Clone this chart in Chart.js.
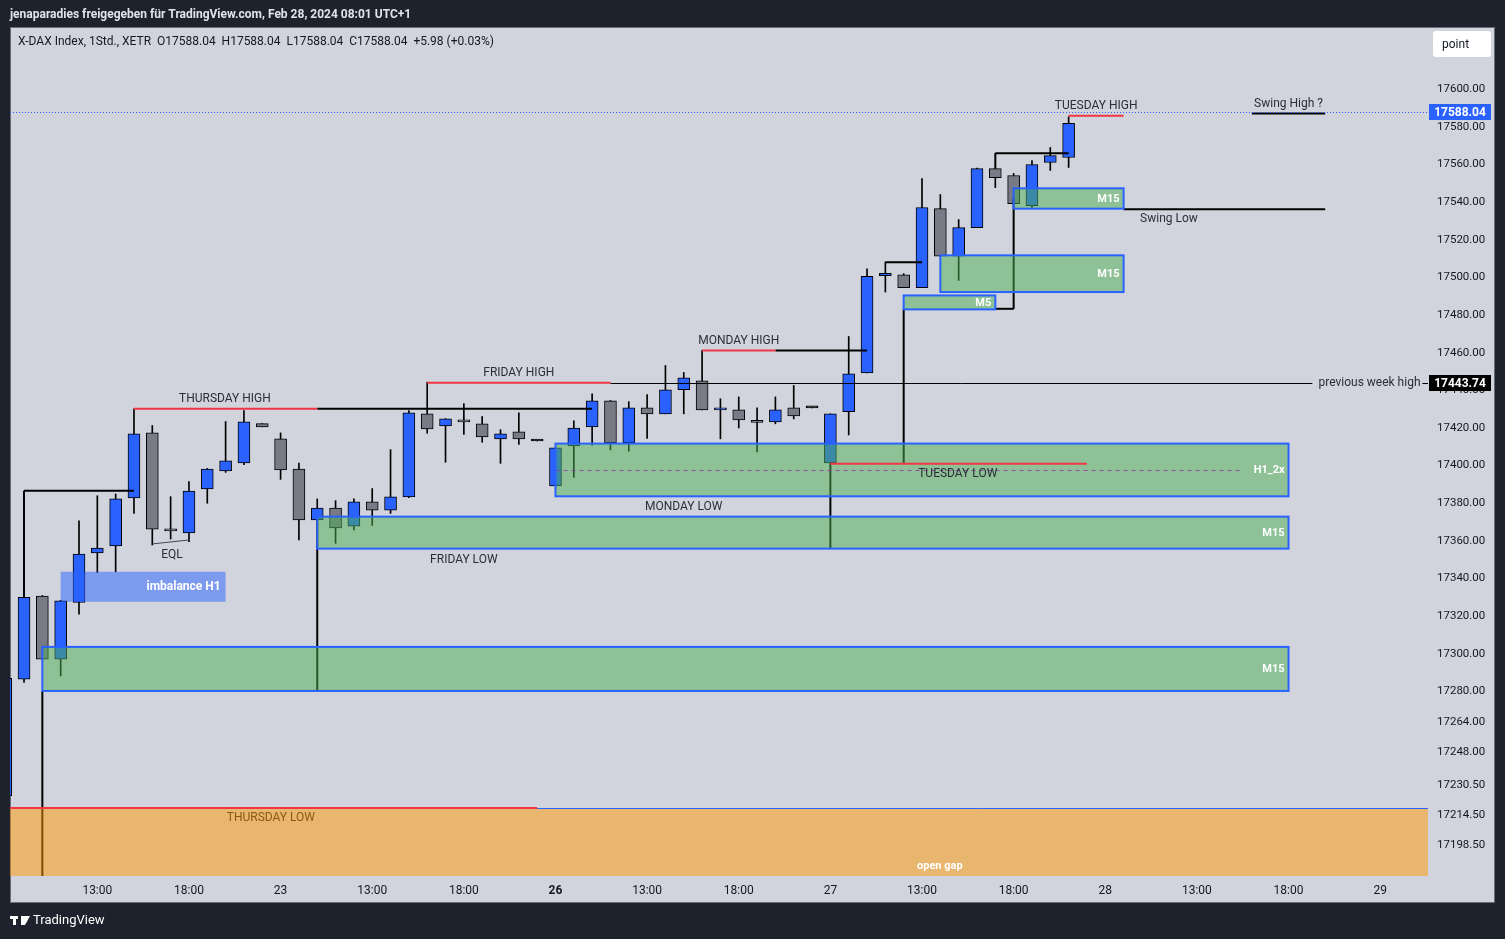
<!DOCTYPE html>
<html>
<head>
<meta charset="utf-8">
<script src="https://cdn.jsdelivr.net/npm/chart.js@4.4.1/dist/chart.umd.min.js"></script>
<style>
  html, body { margin: 0; padding: 0; background: #1e222d; overflow: hidden; }
</style>
</head>
<body>
<canvas id="daxChart" width="1505" height="939"></canvas>
<script>
// bar 0 = Thu 22 Feb 08:00, 15 one-hour bars per session (08:00 - 22:00)
const opens = [
  17224.5, 17286.5, 17330.7, 17297.2, 17327.3, 17353.6, 17357.3, 17382.8, 17417.4, 17366.3,
  17364.2, 17387.6, 17397.2, 17401.4, 17422.3, 17414.2, 17398.2, 17371.1, 17377.5, 17367.9,
  17380.7, 17376.4, 17383.4, 17427.5, 17421.1, 17424.3, 17422.2, 17414.2, 17417.9, 17413.1,
  17389.2, 17410.5, 17420.6, 17434.4, 17412.0, 17430.7, 17427.5, 17440.3, 17445.0, 17429.6,
  17429.6, 17423.6, 17423.2, 17430.7, 17430.7, 17401.4, 17428.6, 17449.3, 17500.9, 17501.4,
  17494.5, 17536.5, 17511.2, 17526.4, 17557.8, 17554.1, 17538.1, 17561.0, 17563.7,
];
const highs = [
  17290.0, 17330.5, 17331.0, 17328.5, 17370.7, 17384.0, 17384.9, 17430.2, 17421.3, 17383.5,
  17391.5, 17398.5, 17423.4, 17429.3, 17422.3, 17417.4, 17401.4, 17382.3, 17381.4, 17382.3,
  17387.8, 17408.5, 17429.3, 17444.3, 17425.0, 17433.0, 17426.1, 17419.1, 17428.0, 17413.1,
  17409.4, 17423.8, 17438.1, 17434.6, 17434.0, 17437.8, 17453.2, 17449.5, 17461.2, 17435.5,
  17436.5, 17430.7, 17436.5, 17442.6, 17430.7, 17427.5, 17468.6, 17504.6, 17508.1, 17502.0,
  17552.5, 17544.0, 17530.7, 17558.0, 17558.0, 17555.2, 17562.1, 17569.0, 17585.3,
];
const lows = [
  17222.0, 17284.8, 17297.0, 17288.3, 17321.1, 17343.2, 17343.6, 17374.6, 17357.8, 17361.0,
  17359.6, 17380.0, 17396.4, 17400.5, 17420.6, 17392.7, 17360.5, 17370.5, 17358.7, 17365.8,
  17368.2, 17374.6, 17383.0, 17417.2, 17401.8, 17416.6, 17412.4, 17401.2, 17411.3, 17413.1,
  17389.2, 17393.8, 17410.8, 17408.4, 17407.7, 17414.5, 17427.5, 17427.5, 17429.6, 17414.2,
  17420.0, 17407.3, 17422.2, 17424.8, 17430.7, 17401.0, 17416.3, 17449.3, 17492.2, 17494.5,
  17494.5, 17511.2, 17498.4, 17526.4, 17547.7, 17539.2, 17537.1, 17556.8, 17558.4,
];
const closes = [
  17287.0, 17330.0, 17297.2, 17328.2, 17353.0, 17356.2, 17382.3, 17416.9, 17366.3, 17365.3,
  17386.5, 17398.2, 17402.5, 17423.2, 17420.6, 17397.7, 17371.1, 17377.5, 17366.9, 17380.7,
  17376.4, 17383.4, 17428.0, 17419.5, 17424.8, 17423.2, 17415.3, 17416.9, 17414.2, 17413.1,
  17409.4, 17420.0, 17434.4, 17412.0, 17430.7, 17427.5, 17440.3, 17446.6, 17429.6, 17430.7,
  17424.3, 17423.0, 17429.6, 17426.4, 17430.7, 17427.5, 17448.8, 17500.5, 17502.1, 17494.5,
  17537.1, 17511.2, 17526.4, 17557.8, 17553.0, 17539.2, 17559.9, 17564.7, 17581.8,
];

const xTickPos = [5, 10, 15, 20, 25, 30, 35, 40, 45, 50, 55, 60, 65, 70, 75];
const xTickLabels = ["13:00", "18:00", "23", "13:00", "18:00", "26", "13:00", "18:00", "27",
  "13:00", "18:00", "28", "13:00", "18:00", "29"];
const yTickValues = [17600, 17580, 17560, 17540, 17520, 17500, 17480, 17460, 17440, 17420,
  17400, 17380, 17360, 17340, 17320, 17300, 17280, 17264, 17248, 17230.5, 17214.5, 17198.5];

const lastPrice = 17588.04;
const prevWeekHigh = 17443.74;

// zones: [fromBar, toBar, top, bottom, label]
const zones = [
  [2, 70, 17303.7, 17280.3, "M15"],
  [17, 70, 17372.9, 17355.9, "M15"],
  [30, 70, 17411.7, 17383.7, "H1_2x"],
  [49, 54, 17490.4, 17483.0, "M5"],
  [51, 61, 17511.7, 17492.2, "M15"],
  [55, 61, 17547.3, 17536.5, "M15"],
];
const imbalance = [3, 12, 17343.6, 17327.7, "imbalance H1"];
const gapZone = [-5, 100, 17218.1, 17100];

// segments: [bar0, price0, bar1, price1]
const blackLines = [
  [1, 17386.7, 7, 17386.7], [1, 17386.7, 1, 17330],
  [17, 17430.2, 32, 17430.2],
  [42, 17461.2, 47, 17461.2],
  [48, 17508, 50, 17508],
  [54, 17566, 58, 17566], [54, 17566, 54, 17558],
  [49, 17401, 49, 17483.3], [54, 17483.3, 55, 17483.3], [55, 17483.3, 55, 17542],
  [61, 17536.2, 72, 17536.2],
  [68, 17587, 72, 17587],
  [2, 17280.3, 2, 17100],
  [17, 17371, 17, 17280.3],
  [45, 17401, 45, 17355.9],
];
const redLines = [
  [7, 17430.2, 17, 17430.2],
  [23, 17444, 33, 17444],
  [38, 17461.2, 42, 17461.2],
  [45, 17401, 59, 17401],
  [58, 17585.8, 61, 17585.8],
  [0, 17218.1, 29, 17218.1],
];
const thinLines = [
  [33, prevWeekHigh, 71.3, prevWeekHigh],
  [77.3, prevWeekHigh, 78, prevWeekHigh],
];
const eqlLine = [8, 17358.4, 10, 17360.5];

// notes: [text, bar, price, align]
const darkNotes = [
  ["THURSDAY HIGH", 11.96, 17435.6, "center"],
  ["FRIDAY HIGH", 28.0, 17449.4, "center"],
  ["MONDAY HIGH", 40.0, 17466.4, "center"],
  ["TUESDAY HIGH", 59.5, 17590.9, "center"],
  ["Swing High ?", 70.0, 17592, "center"],
  ["Swing Low", 61.9, 17530.8, "left"],
  ["previous week high", 77.2, 17444.1, "right"],
  ["TUESDAY LOW", 51.95, 17395.7, "center"],
  ["MONDAY LOW", 37.0, 17378.1, "center"],
  ["FRIDAY LOW", 25.0, 17349.9, "center"],
  ["EQL", 9.07, 17352.6, "center"],
];
const gapNotes = [
  ["THURSDAY LOW", 14.47, 17212.7, "center"],
  ["open gap", 50.97, 17187.2, "center"],
];

const bars = opens.map((_, i) => i);
const bodyData = bars.map(i => ({ x: i, y: [opens[i], closes[i]] }));
const wickData = bars.map(i => ({ x: i, y: [lows[i], highs[i]] }));
const bodyColors = bars.map(i =>
  closes[i] === opens[i] ? "#000000" : closes[i] > opens[i] ? "#2962ff" : "#787b86");

const FONT = "Roboto, 'Noto Sans', sans-serif";

function segment(c, x0, y0, x1, y1, color, width, dash) {
  c.save();
  c.strokeStyle = color;
  c.lineWidth = width;
  c.setLineDash(dash || []);
  c.beginPath();
  c.moveTo(x0, y0);
  c.lineTo(x1, y1);
  c.stroke();
  c.restore();
}

const overlay = {
  id: "overlay",
  beforeDraw(chart) {
    const c = chart.ctx;
    c.save();
    c.fillStyle = "#1e222d";
    c.fillRect(0, 0, chart.width, chart.height);
    c.fillStyle = "#d1d4dc";
    c.fillRect(10, 27, 1485, 876);
    c.strokeStyle = "#6a6d78";
    c.lineWidth = 1;
    c.strokeRect(10.5, 27.5, 1484, 875);
    c.restore();
  },
  afterDatasetsDraw(chart) {
    const c = chart.ctx;
    const xs = chart.scales.x, ys = chart.scales.y;
    const X = v => xs.getPixelForValue(v);
    const Y = v => ys.getPixelForValue(v);
    const a = chart.chartArea;
    c.save();
    c.beginPath();
    c.rect(a.left, a.top, a.right - a.left, a.bottom - a.top);
    c.clip();

    blackLines.forEach(l => segment(c, X(l[0]), Y(l[1]), X(l[2]), Y(l[3]), "#000000", 2));
    thinLines.forEach(l => segment(c, X(l[0]), Math.round(Y(l[1])) + 0.5, X(l[2]), Math.round(Y(l[3])) + 0.5, "#000000", 1));
    segment(c, X(eqlLine[0]), Y(eqlLine[1]), X(eqlLine[2]), Y(eqlLine[3]), "#434651", 1);

    // open gap
    c.fillStyle = "rgba(255,152,0,0.5)";
    c.fillRect(X(gapZone[0]), Y(gapZone[2]), X(gapZone[1]) - X(gapZone[0]), Y(gapZone[3]) - Y(gapZone[2]));
    segment(c, X(29), Math.round(Y(gapZone[2])) + 0.5, a.right, Math.round(Y(gapZone[2])) + 0.5, "#2962ff", 1);

    // imbalance
    const ib = imbalance;
    c.fillStyle = "rgba(41,98,255,0.5)";
    c.fillRect(X(ib[0]), Y(ib[2]), X(ib[1]) - X(ib[0]), Y(ib[3]) - Y(ib[2]));

    zones.forEach(z => {
      const x0 = X(z[0]), x1 = X(z[1]), y0 = Y(z[2]), y1 = Y(z[3]);
      c.fillStyle = "rgba(76,175,80,0.5)";
      c.fillRect(x0, y0, x1 - x0, y1 - y0);
      if (z[4] === "H1_2x") {
        const ym = Math.round((y0 + y1) / 2) + 0.5;
        segment(c, x0, ym, x1 - 45, ym, "rgba(156,39,176,0.8)", 1, [4, 4]);
      }
      c.strokeStyle = "#2962ff";
      c.lineWidth = 2;
      c.strokeRect(x0, y0, x1 - x0, y1 - y0);
    });

    redLines.forEach(l => segment(c, X(l[0]), Y(l[1]), X(l[2]), Y(l[3]), "#f23645", 2));

    // labels
    c.textBaseline = "middle";
    c.font = "bold 11px " + FONT;
    c.fillStyle = "#ffffff";
    c.textAlign = "right";
    zones.forEach(z => c.fillText(z[4], X(z[1]) - 4, (Y(z[2]) + Y(z[3])) / 2 + 0.5));
    c.font = "bold 12px " + FONT;
    c.fillText(ib[4], X(ib[1]) - 5, (Y(ib[2]) + Y(ib[3])) / 2 + 0.5);

    c.font = "12px " + FONT;
    c.fillStyle = "#2a2e39";
    darkNotes.forEach(n => { c.textAlign = n[3]; c.fillText(n[0], X(n[1]), Y(n[2])); });
    c.textAlign = "center";
    c.fillStyle = "#8a5a12";
    c.fillText(gapNotes[0][0], X(gapNotes[0][1]), Y(gapNotes[0][2]));
    c.font = "bold 11px " + FONT;
    c.fillStyle = "#ffffff";
    c.fillText(gapNotes[1][0], X(gapNotes[1][1]), Y(gapNotes[1][2]));

    // last price line
    const yl = Math.round(Y(lastPrice)) + 0.5;
    segment(c, a.left, yl, a.right, yl, "#2962ff", 1, [1, 2]);
    c.restore();
  },
  afterDraw(chart) {
    const c = chart.ctx;
    const Y = v => chart.scales.y.getPixelForValue(v);
    c.save();
    c.textBaseline = "middle";

    // price tags
    [[lastPrice, "#2962ff"], [prevWeekHigh, "#000000"]].forEach(t => {
      const y = Math.round(Y(t[0]));
      c.fillStyle = t[1];
      c.fillRect(1429, y - 8, 62, 16);
      c.fillStyle = "#ffffff";
      c.font = "bold 12px " + FONT;
      c.textAlign = "center";
      c.fillText(t[0].toFixed(2), 1460, y + 0.5);
    });

    // "point" button
    c.fillStyle = "#ffffff";
    c.beginPath();
    c.roundRect(1433, 31, 58, 26, 3);
    c.fill();
    c.fillStyle = "#131722";
    c.font = "12px " + FONT;
    c.textAlign = "left";
    c.fillText("point", 1442, 44.5);

    // header / legend
    c.fillStyle = "#e0e3eb";
    c.font = "bold 12px " + FONT;
    c.fillText("jenaparadies freigegeben für TradingView.com, Feb 28, 2024 08:01 UTC+1", 10, 14.5);
    c.fillStyle = "#131722";
    c.font = "12px " + FONT;
    c.fillText("X-DAX Index, 1Std., XETR  O17588.04  H17588.04  L17588.04  C17588.04  +5.98 (+0.03%)", 18, 41.5);

    // footer logo
    c.fillStyle = "#ffffff";
    c.fillRect(10, 916, 8, 3);
    c.fillRect(13, 916, 3, 9);
    c.beginPath();
    c.moveTo(21, 916); c.lineTo(30, 916); c.lineTo(25, 925); c.lineTo(21, 925);
    c.closePath();
    c.fill();
    c.font = "13px " + FONT;
    c.fillText("TradingView", 33, 921);
    c.restore();
  },
};

const ctx = document.getElementById("daxChart").getContext("2d");
new Chart(ctx, {
  type: "bar",
  data: {
    datasets: [
      {
        label: "body",
        data: bodyData,
        backgroundColor: bodyColors,
        borderColor: "#000000",
        borderWidth: 1,
        borderSkipped: false,
        barThickness: 12,
        minBarLength: 2,
        grouped: false,
        order: 1,
      },
      {
        label: "wick",
        data: wickData,
        backgroundColor: "#000000",
        borderWidth: 0,
        barThickness: 1,
        grouped: false,
        order: 2,
      },
    ],
  },
  options: {
    responsive: false,
    animation: false,
    layout: { padding: { left: 10, top: 27, right: 10, bottom: 36 } },
    plugins: { legend: { display: false }, tooltip: { enabled: false } },
    scales: {
      x: {
        type: "linear",
        min: 0.235,
        max: 77.61,
        offset: false,
        grid: { display: false, drawTicks: false },
        border: { display: false },
        afterBuildTicks: s => { s.ticks = xTickPos.map(v => ({ value: v })); },
        afterFit: s => { s.height = 27; },
        ticks: {
          autoSkip: false,
          maxRotation: 0,
          padding: 8,
          color: "#131722",
          font: c => ({ family: FONT, size: 12, weight: c.tick && c.tick.value === 30 ? "bold" : "normal" }),
          callback: v => xTickLabels[xTickPos.indexOf(v)],
        },
      },
      y: {
        position: "right",
        min: 17182,
        max: 17633,
        grid: { display: false, drawTicks: false },
        border: { display: false },
        afterBuildTicks: s => { s.ticks = yTickValues.map(v => ({ value: v })); },
        afterFit: s => { s.width = 67; },
        ticks: {
          autoSkip: false,
          padding: 9,
          color: "#131722",
          font: { family: FONT, size: 11.5 },
          callback: v => v.toFixed(2),
        },
      },
    },
  },
  plugins: [overlay],
});
</script>
</body>
</html>
